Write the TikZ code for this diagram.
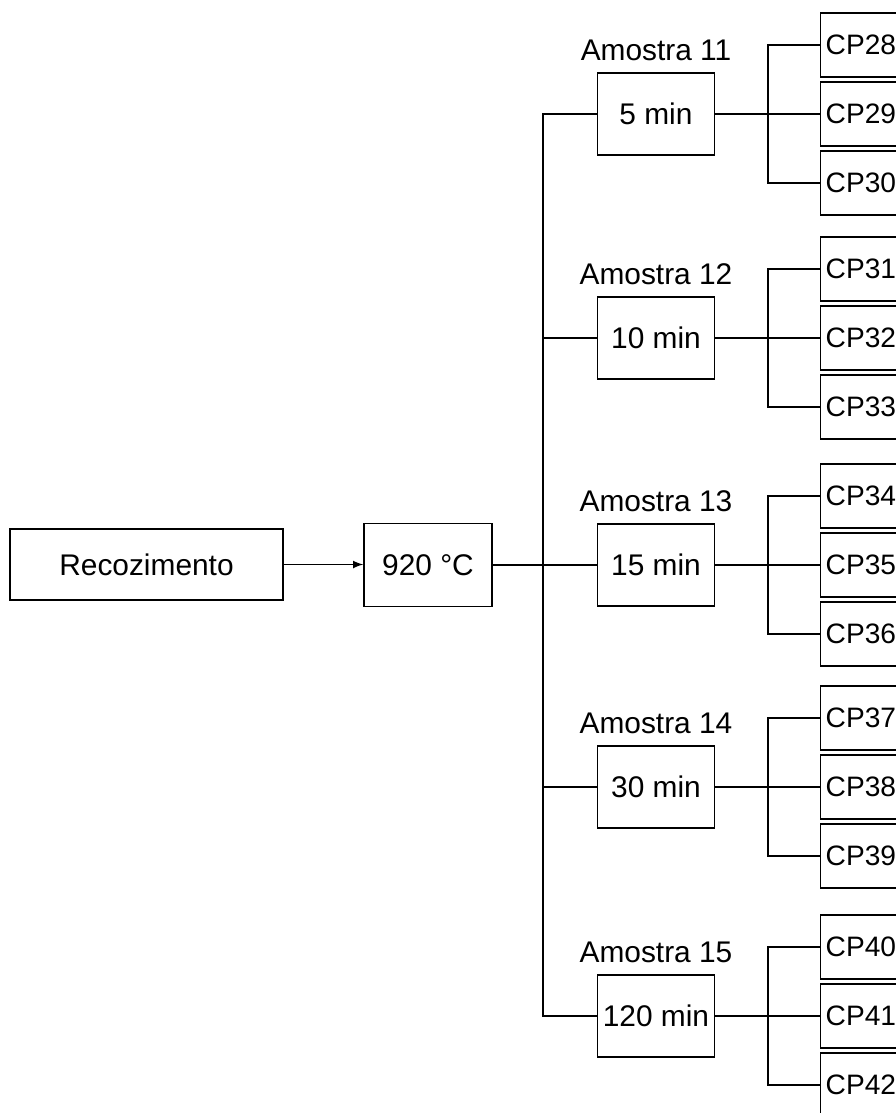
\documentclass[tikz,border=0pt]{standalone}
\usepackage{fontspec}
\setmainfont{Liberation Sans}
\usetikzlibrary{arrows}

\begin{document}
\begin{tikzpicture}[x=0.02cm, y=-0.02cm, line width=0.8pt,
  every node/.style={font=\fontsize{17}{20}\selectfont},
  box/.style={draw, inner sep=0pt, minimum width=2.34cm, minimum height=1.64cm},
  cpbox/.style={draw, anchor=west, inner xsep=0.1cm, inner ysep=0pt,
    text width=1.8cm, align=left, minimum height=1.28cm,
    font=\fontsize{16}{19}\selectfont}]
\useasboundingbox (0,0) rectangle (896,1113);
\clip (0,0) rectangle (896,1113);

\node[box, minimum width=5.46cm, minimum height=1.42cm] (rec) at (146.5,564.5) {Recozimento};
\node[box, minimum width=2.56cm, minimum height=1.66cm] (temp) at (428,565) {920 °C};
\draw[-latex, line width=1pt] (rec.east) -- (rec.east -| temp.west);

\foreach \i/\yy/\t in {1/114/5 min, 2/338/10 min, 3/565/15 min, 4/787/30 min, 5/1016/120 min} {
  \pgfmathtruncatemacro\am{10+\i}
  \node[box] (am\i) at (656,\yy) {\t};
  \node[anchor=base, inner sep=0pt] (lab\i) at ([yshift=0.24cm]am\i.north) {Amostra \am};
  \coordinate (fork\i) at (768,\yy);
  \foreach \k in {0,1,2} {
    \pgfmathtruncatemacro\cp{25+3*\i+\k}
    \node[cpbox] (cp\i\k) at (820,\yy+69*\k-69) {CP\cp};
  }
  \draw (am\i.east) -- (cp\i1.west);
  \draw (cp\i0.west) -| (fork\i) |- (cp\i2.west);
}

\coordinate (bot) at (543,1016);
\draw (am1.west) -| (bot) -- (am5.west);
\draw (am2.west) -- (am2.west -| bot);
\draw (am4.west) -- (am4.west -| bot);
\draw (temp.east) -- (am3.west);
\end{tikzpicture}
\end{document}
